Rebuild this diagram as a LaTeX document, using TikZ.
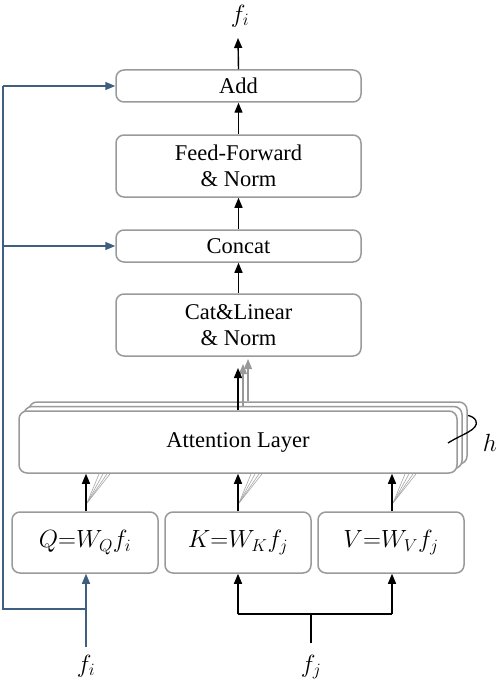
\documentclass[tikz,border=0pt]{standalone}
\usepackage{fontspec}
\setmainfont{Liberation Serif}
\usetikzlibrary{arrows.meta}
\definecolor{boxgray}{HTML}{9A9A9A}
\definecolor{linkblue}{HTML}{3E5F80}
\tikzset{
  blk/.style={draw=boxgray, line width=1.5pt, rounded corners=8pt, fill=white, align=center,
    inner sep=0pt, font=\fontsize{22.5}{26}\selectfont},
  mblk/.style={blk, font=\fontsize{25}{28}\selectfont},
  arr/.style={line width=1.4pt, -{Triangle[length=10pt,width=8pt]}},
  garr/.style={draw=gray!80, line width=1.1pt, -{Triangle[length=10pt,width=8pt]}},
  fan/.style={draw=gray!70, line width=0.6pt},
  barr/.style={draw=linkblue, line width=1.4pt, -{Triangle[length=10pt,width=8pt]}},
  bline/.style={draw=linkblue, line width=1.4pt},
  lbl/.style={font=\fontsize{27}{30}\selectfont, inner sep=0pt},
}
\begin{document}
\begin{tikzpicture}[x=1pt,y=-1pt]
\useasboundingbox (0,0) rectangle (498,682);
% main column
\node[blk, minimum width=245pt, minimum height=32pt] (add) at (238.5,86) {Add};
\node[blk, minimum width=245pt, minimum height=62pt] (ff) at (238.5,166) {Feed-Forward\\\& Norm};
\node[blk, minimum width=245pt, minimum height=32pt] (concat) at (238.5,246) {Concat};
\node[blk, minimum width=245pt, minimum height=62pt] (cat) at (238.5,325) {Cat\&Linear\\\& Norm};
% attention stack
\node[blk, minimum width=438pt, minimum height=62pt] (att3) at (248,433) {};
\node[blk, minimum width=438pt, minimum height=62pt] (att2) at (243,437.5) {};
\node[blk, minimum width=438pt, minimum height=62pt] (att1) at (238,442) {Attention Layer};
% qkv
\node[mblk, minimum width=146pt, minimum height=61pt] (q) at (85,542.5) {$Q{=}W_Q f_i$};
\node[mblk, minimum width=146pt, minimum height=61pt] (k) at (238,542.5) {$K{=}W_K f_j$};
\node[mblk, minimum width=146pt, minimum height=61pt] (v) at (391,542.5) {$V{=}W_V f_j$};
% labels
\node[lbl] (fout) at (240,16) {$f_i$};
\node[lbl] (fin) at (86,666) {$f_i$};
\node[lbl] (fj) at (311,667) {$f_j$};
\node[lbl] (hl) at (490,443) {$h$};
% coordinates
\coordinate (top) at (238,38);
\coordinate (ca) at (238,368);
\coordinate (cb) at (243,364);
\coordinate (cc) at (248,359);
\coordinate (fiin) at (86,647);
\coordinate (fisplit) at (86,609);
\coordinate (fileft) at (3,609);
\coordinate (fitop) at (3,86);
\coordinate (ficon) at (3,246);
\coordinate (fjin) at (311,643);
\coordinate (fjmid) at (311,614);
\coordinate (fjl) at (238,614);
\coordinate (fjr) at (392,614);
% vertical arrows
\draw[arr] (add.north) -- (top);
\draw[arr] (ff.north) -- (add.south);
\draw[arr] (concat.north) -- (ff.south);
\draw[arr] (cat.north) -- (concat.south);
\draw[garr] (att3.north -| cc) -- (cc);
\draw[garr] (att2.north -| cb) -- (cb);
\draw[arr] (att1.north -| ca) -- (ca);
% qkv to attention
\foreach \n/\x in {q/86,k/238,v/392}{
  \draw[fan] (\x+1,503) -- (\x+13,474);
  \draw[fan] (\x+1,503) -- (\x+17,474);
  \draw[fan] (\x+1,503) -- (\x+21,474);
  \draw[fan] (\x+1,503) -- (\x+24,474);
}
\draw[arr] (q.north -| fiin) -- (att1.south -| fiin);
\draw[arr] (k.north -| fjl) -- (att1.south -| fjl);
\draw[arr] (v.north -| fjr) -- (att1.south -| fjr);
% f_i input and residual
\draw[barr] (fiin) -- (q.south -| fiin);
\draw[bline] (fisplit) -- (fileft) -- (fitop);
\draw[barr] (fitop) -- (add.west);
\draw[barr] (ficon) -- (concat.west);
% f_j input
\draw[line width=1.4pt] (fjin) -- (fjmid);
\draw[line width=1.4pt] (fjl) -- (fjr);
\draw[arr] (fjl) -- (k.south -| fjl);
\draw[arr] (fjr) -- (v.south -| fjr);
% head brace
\draw[line width=1.3pt] (448,443) .. controls (462,434) and (479,430) .. (476,421) .. controls (475,418) and (471,416) .. (468,415.5);
\end{tikzpicture}
\end{document}
